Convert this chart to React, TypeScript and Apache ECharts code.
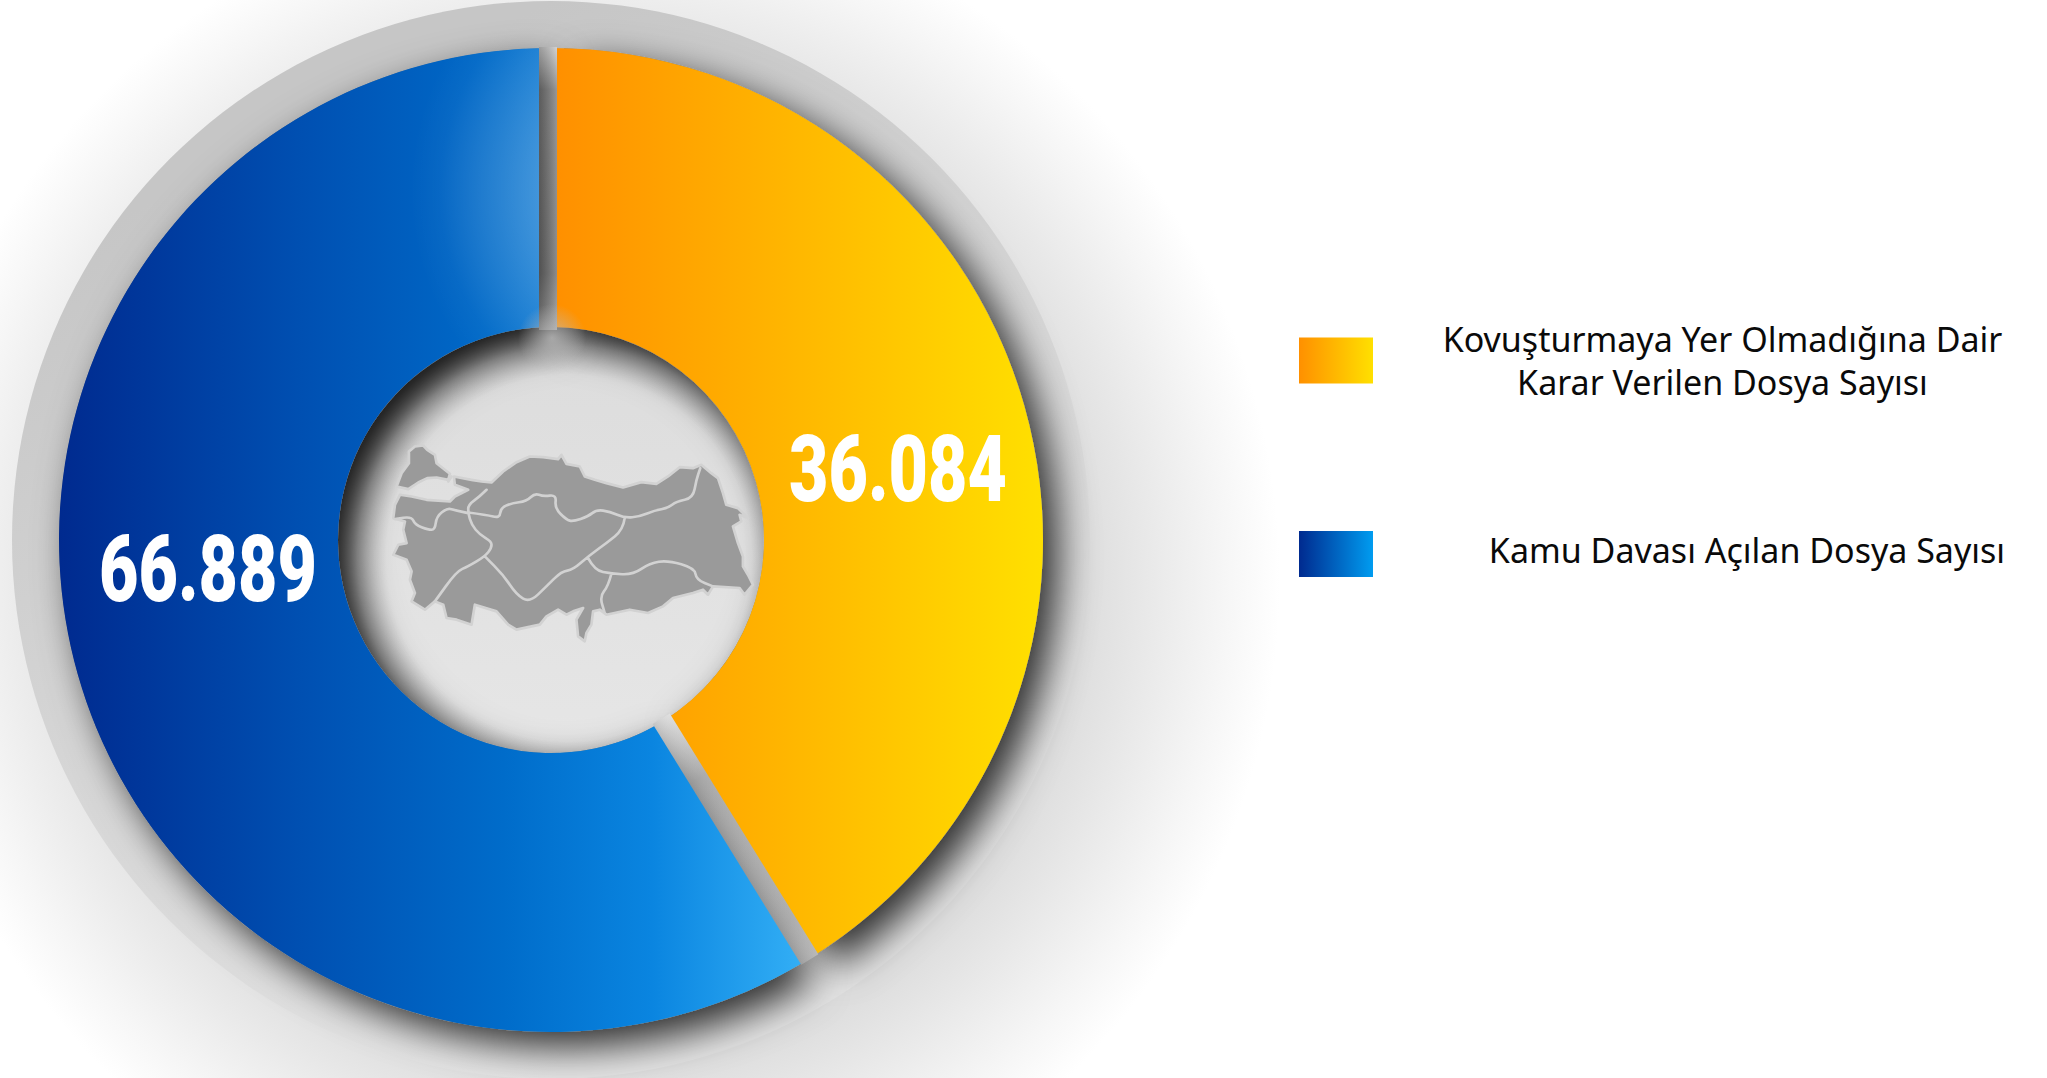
import React, { useEffect, useRef } from "react";
import * as echarts from "echarts";

// Data
const categories = [
  "Kovuşturmaya Yer Olmadığına Dair Karar Verilen Dosya Sayısı",
  "Kamu Davası Açılan Dosya Sayısı",
];
const printedValues = ["36.084", "66.889"];
// The reference's slices are drawn at these shares of the ring (measured from its angles)
const drawnShares = [41.2, 58.8];
const legendLines = [
  ["Kovuşturmaya Yer Olmadığına Dair", "Karar Verilen Dosya Sayısı"],
  ["Kamu Davası Açılan Dosya Sayısı"],
];

const CX = 551;
const CY = 540;
const R0 = 213;
const R1 = 492;
const labelCenters = [
  [898, 470],
  [208, 570],
];

const orangeStops = [
  { offset: 0, color: "#ff9000" },
  { offset: 1, color: "#ffe000" },
];
const blueStops = [
  { offset: 0, color: "#002a8f" },
  { offset: 0.33, color: "#0050b2" },
  { offset: 0.6, color: "#006cca" },
  { offset: 0.8, color: "#0a85e0" },
  { offset: 1, color: "#32aef5" },
];
const globalLinear = (x: number, x2: number, colorStops: any[]) => ({
  type: "linear",
  x,
  y: 0,
  x2,
  y2: 0,
  global: true,
  colorStops,
});
const boxLinear = (colorStops: any[]) => ({ type: "linear", x: 0, y: 0, x2: 1, y2: 0, colorStops });

const stripStyles = [
  {
    width: 18,
    shift: -3,
    along: [
      { offset: 0, color: "#c4c4c4" },
      { offset: 0.15, color: "#747474" },
      { offset: 0.8, color: "#666666" },
      { offset: 1, color: "#8a8a8a" },
    ],
    across: [
      { offset: 0, color: "rgba(0,0,0,0.2)" },
      { offset: 1, color: "rgba(255,255,255,0.25)" },
    ],
  },
  {
    width: 20,
    shift: 0,
    along: [
      { offset: 0, color: "#b4b4b4" },
      { offset: 0.15, color: "#ababab" },
      { offset: 0.75, color: "#a8a8a8" },
      { offset: 1, color: "#dedede" },
    ],
    across: [
      { offset: 0, color: "rgba(255,255,255,0.06)" },
      { offset: 1, color: "rgba(0,0,0,0.12)" },
    ],
  },
];

// Decorative outline of the map, in a 3x local space
const thrace = [
  [207, 455], [225, 440], [250, 437], [262, 450], [285, 465], [290, 490], [330, 522], [325, 540], [290, 533],
  [262, 535], [235, 548], [205, 568], [170, 560], [185, 520], [207, 490],
];
const anatolia = [
  [342, 530], [395, 540], [425, 545], [455, 548], [490, 515], [530, 487], [570, 470], [610, 472], [655, 478],
  [665, 465], [680, 492], [720, 500], [735, 530], [765, 540], [800, 550], [850, 563], [905, 547], [950, 552],
  [985, 530], [1020, 502], [1060, 505], [1085, 495], [1115, 520], [1135, 535], [1150, 580], [1160, 615],
  [1195, 625], [1225, 655], [1200, 645], [1205, 665], [1180, 680], [1195, 730], [1210, 770], [1210, 800],
  [1225, 825], [1240, 855], [1215, 885], [1200, 865], [1120, 860], [1105, 885], [1090, 870], [1060, 880],
  [1000, 895], [970, 920], [925, 940], [870, 930], [800, 945], [780, 930], [760, 935], [755, 975], [740, 1000],
  [735, 1025], [715, 1010], [710, 960], [730, 925], [700, 935], [680, 945], [655, 930], [620, 950], [600, 975],
  [530, 990], [505, 975], [470, 935], [405, 915], [395, 975], [350, 960], [320, 955], [310, 915], [285, 905],
  [255, 930], [215, 905], [225, 880], [210, 840], [215, 815], [200, 780], [160, 765], [175, 735], [200, 730],
  [190, 690], [195, 665], [160, 655], [165, 615], [180, 585], [215, 590], [260, 600], [330, 605], [345, 590],
  [385, 570], [345, 555],
];
const borders = [
  [[440, 570], [420, 590], [385, 615], [385, 640], [395, 675], [420, 705], [455, 725], [455, 745], [435, 770], [385, 800], [350, 815], [285, 905]],
  [[385, 640], [340, 630], [322, 625], [290, 650], [285, 690], [265, 690], [225, 675], [215, 650], [165, 658]],
  [[335, 530], [325, 545]],
  [[385, 638], [440, 645], [480, 655], [482, 625], [515, 610], [560, 605], [585, 580], [610, 590], [650, 585], [645, 625], [680, 660], [700, 665], [745, 650], [770, 630], [810, 635], [855, 655], [900, 650], [945, 632], [985, 625], [1010, 605], [1060, 595], [1070, 540], [1082, 505]],
  [[855, 655], [850, 690], [800, 730], [745, 770], [700, 810], [665, 815], [620, 860], [570, 908], [530, 885], [490, 825], [435, 770]],
  [[745, 775], [765, 812], [815, 822], [880, 825], [930, 790], [985, 782], [1065, 805], [1070, 840], [1120, 860]],
  [[815, 822], [805, 860], [780, 890], [795, 940]],
];

const closedPath = (pts: number[][]) => "M" + pts.map((p) => p.join(" ")).join("L") + "Z";
const smoothPath = (pts: number[][]) => {
  let d = `M${pts[0][0]} ${pts[0][1]}`;
  for (let i = 1; i < pts.length - 1; i++) {
    const mx = (pts[i][0] + pts[i + 1][0]) / 2;
    const my = (pts[i][1] + pts[i + 1][1]) / 2;
    d += `Q${pts[i][0]} ${pts[i][1]} ${mx} ${my}`;
  }
  const last = pts[pts.length - 1];
  return d + `L${last[0]} ${last[1]}`;
};

echarts.graphic.registerShape("trLand", echarts.graphic.extendPath(closedPath(thrace) + closedPath(anatolia), {}) as any);
echarts.graphic.registerShape("trBorders", echarts.graphic.extendPath(borders.map(smoothPath).join(""), {}) as any);

const legendBase = (i: number, left: number, top: number, pad: number, padBottom: number, blockWidth: number, stops: any[]) => ({
  data: [categories[i]],
  left,
  top,
  orient: "horizontal",
  icon: "rect",
  itemWidth: 74,
  itemHeight: 46,
  selectedMode: false,
  itemStyle: {
    color: boxLinear(stops),
    borderWidth: 0,
    shadowBlur: 0,
    shadowColor: "transparent",
    shadowOffsetX: 0,
    shadowOffsetY: 0,
  },
  formatter: () => legendLines[i].map((l) => `{a|${l}}`).join("\n"),
  textStyle: {
    rich: {
      a: {
        width: blockWidth,
        align: "center",
        fontFamily: "Noto Sans",
        fontSize: 34,
        lineHeight: 43,
        color: "#0a0a0a",
        padding: [0, 0, padBottom, pad],
      },
    },
  },
});

export default function App() {
  const ref = useRef<HTMLDivElement>(null);
  useEffect(() => {
    const chart = echarts.init(ref.current!, undefined, { renderer: "svg" });
    const total = drawnShares.reduce((a, b) => a + b, 0);
    const pieData = (colors: any[]) =>
      categories.map((name, i) => ({ name, value: drawnShares[i], itemStyle: { color: colors[i] } }));
    const pieCommon = {
      type: "pie",
      center: [CX, CY],
      radius: [R0, R1],
      startAngle: 90,
      silent: true,
      labelLine: { show: false },
      label: { show: false },
    };
    chart.setOption({
      animation: false,
      backgroundColor: "#ffffff",
      legend: [
        legendBase(0, 1294, 317, 66, 0, 557, orangeStops),
        legendBase(1, 1294, 526, 111, 8, 516, [
          { offset: 0, color: "#002a8f" },
          { offset: 1, color: "#009cf0" },
        ]),
      ],
      graphic: {
        elements: [
          {
            type: "circle",
            z: 0,
            silent: true,
            shape: { cx: 590, cy: 580, r: 690 },
            style: {
              fill: {
                type: "radial",
                x: 0.5,
                y: 0.5,
                r: 0.5,
                colorStops: [
                  { offset: 0, color: "#dedede" },
                  { offset: 0.72, color: "#dedede" },
                  { offset: 0.82, color: "#eaeaea" },
                  { offset: 0.92, color: "#f6f6f6" },
                  { offset: 1, color: "#ffffff" },
                ],
              },
            },
          },
          {
            type: "circle",
            z: 1,
            silent: true,
            shape: { cx: CX, cy: CY, r: 539 },
            style: {
              fill: {
                type: "linear",
                x: 0.3,
                y: 0.1,
                x2: 0.7,
                y2: 0.9,
                colorStops: [
                  { offset: 0, color: "#c6c6c6" },
                  { offset: 0.5, color: "#d6d6d6" },
                  { offset: 1, color: "#e4e4e4" },
                ],
              },
            },
          },
          {
            type: "circle",
            z: 1,
            silent: true,
            shape: { cx: CX, cy: CY, r: R0 + 2 },
            style: {
              fill: {
                type: "linear",
                x: 0,
                y: 0,
                x2: 0,
                y2: 1,
                colorStops: [
                  { offset: 0, color: "#dcdcdc" },
                  { offset: 1, color: "#e6e6e6" },
                ],
              },
            },
          },
          {
            type: "circle",
            z: 2,
            silent: true,
            shape: { cx: CX, cy: CY, r: R0 + 2 },
            style: {
              fill: {
                type: "radial",
                x: CX + 18,
                y: CY + 18,
                r: 235,
                global: true,
                colorStops: [
                  { offset: 0.78, color: "rgba(0,0,0,0)" },
                  { offset: 0.9, color: "rgba(0,0,0,0.15)" },
                  { offset: 1, color: "rgba(0,0,0,0.45)" },
                ],
              },
            },
          },
          {
            type: "circle",
            z: 7,
            silent: true,
            shape: { cx: 552, cy: 338, r: 34 },
            style: {
              fill: {
                type: "radial",
                x: 0.5,
                y: 0.5,
                r: 0.5,
                colorStops: [
                  { offset: 0, color: "rgba(190,190,190,0.75)" },
                  { offset: 1, color: "rgba(190,190,190,0)" },
                ],
              },
            },
          },
          {
            type: "trLand",
            z: 8,
            silent: true,
            x: 340,
            y: 300,
            scaleX: 1 / 3,
            scaleY: 1 / 3,
            style: { fill: "#9a9a9a", stroke: "#d2d2d2", lineWidth: 8, lineJoin: "round" },
          },
          {
            type: "trBorders",
            z: 9,
            silent: true,
            x: 340,
            y: 300,
            scaleX: 1 / 3,
            scaleY: 1 / 3,
            style: { fill: "none", stroke: "#d2d2d2", lineWidth: 8, lineJoin: "round", lineCap: "round" },
          },
          ...printedValues.map((text, i) => ({
            type: "text",
            z: 10,
            silent: true,
            x: labelCenters[i][0],
            y: labelCenters[i][1],
            scaleX: 0.74,
            style: {
              text,
              align: "center",
              verticalAlign: "middle",
              fontFamily: "Roboto",
              fontWeight: 900,
              fontSize: 92,
              fill: "#ffffff",
            },
          })),
        ],
      },
      series: [
        {
          ...pieCommon,
          name: "main",
          z: 4,
          data: pieData([globalLinear(558, 1043, orangeStops), globalLinear(59, 800, blueStops)]),
        },
        {
          ...pieCommon,
          name: "shadow",
          z: 3,
          padAngle: 3,
          data: pieData(["#888888", "#888888"]),
          itemStyle: {
            shadowBlur: 38,
            shadowColor: "rgba(0,0,0,0.8)",
            shadowOffsetX: 15,
            shadowOffsetY: 15,
          },
        },
        {
          ...pieCommon,
          name: "highlight",
          z: 5,
          data: pieData([
            "rgba(255,255,255,0)",
            {
              type: "radial",
              x: 680,
              y: 190,
              r: 300,
              global: true,
              colorStops: [
                { offset: 0.47, color: "rgba(255,255,255,0.25)" },
                { offset: 0.67, color: "rgba(255,255,255,0.12)" },
                { offset: 0.8, color: "rgba(255,255,255,0.03)" },
                { offset: 0.9, color: "rgba(255,255,255,0)" },
              ],
            },
          ]),
        },
        {
          type: "custom",
          name: "gaps",
          coordinateSystem: "none",
          z: 6,
          silent: true,
          data: [[0], [drawnShares[0]]],
          renderItem: (params: any, api: any) => {
            const angle = (api.value(0) / total) * Math.PI * 2;
            const s = stripStyles[params.dataIndex];
            const rect = { x: -s.width / 2 + s.shift, y: -R1 - 1, width: s.width, height: R1 - R0 + 4 };
            return {
              type: "group",
              x: CX,
              y: CY,
              rotation: -angle,
              children: [
                {
                  type: "rect",
                  shape: rect,
                  style: { fill: { type: "linear", x: 0, y: 0, x2: 0, y2: 1, colorStops: s.along } },
                },
                { type: "rect", shape: rect, style: { fill: boxLinear(s.across) } },
              ],
            };
          },
        },
      ],
    });
    return () => chart.dispose();
  }, []);
  return <div ref={ref} style={{ position: "absolute", left: 0, top: 0, width: 2047, height: 1078 }} />;
}
